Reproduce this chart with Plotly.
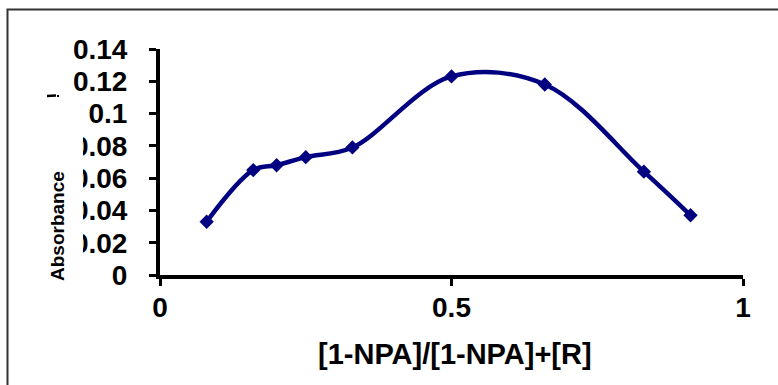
import plotly.graph_objects as go

# ---- data ----
mole_fraction = [0.08, 0.16, 0.20, 0.25, 0.33, 0.50, 0.66, 0.83, 0.91]
absorbance = [0.033, 0.065, 0.068, 0.073, 0.079, 0.123, 0.118, 0.064, 0.037]

x_tick_vals = [0, 0.5, 1]
x_tick_text = ["0", "0.5", "1"]
y_tick_vals = [0, 0.02, 0.04, 0.06, 0.08, 0.10, 0.12, 0.14]
y_tick_text = ["0", "0.02", "0.04", "0.06", "0.08", "0.1", "0.12", "0.14"]

x_title = "[1-NPA]/[1-NPA]+[R]"
y_title = "Absorbance"

# ---- layout geometry (pixels) ----
W, H = 778, 385
ML, MR, MT, MB = 160, 35, 49, 110
PW, PH = W - ML - MR, H - MT - MB


def px_to_paper_x(px):
    return (px - ML) / PW


def px_to_paper_y(py):
    return (H - MB - py) / PH


NAVY = "#000080"
FONT = "Liberation Sans, Arial, sans-serif"

fig = go.Figure()
fig.add_trace(go.Scatter(
    x=mole_fraction,
    y=absorbance,
    mode="lines+markers",
    line=dict(color=NAVY, width=4.5, shape="spline", smoothing=1.0),
    marker=dict(symbol="diamond", size=11, color=NAVY),
    showlegend=False,
    cliponaxis=False,
))

axis_common = dict(
    showline=True, linecolor="black", linewidth=4,
    ticks="outside", ticklen=7, tickwidth=3, tickcolor="black",
    showgrid=False, zeroline=False,
    tickfont=dict(family=FONT, size=28, color="black", weight="bold"),
)

fig.update_xaxes(range=[0, 1], tickvals=x_tick_vals, ticktext=x_tick_text,
                 ticklabelstandoff=-3, **axis_common)
fig.update_yaxes(range=[0, 0.14], tickvals=y_tick_vals, ticktext=y_tick_text,
                 ticklabelstandoff=16, **axis_common)

shapes = [
    # outer chart frame (only top/left edges visible in the crop)
    dict(type="rect", xref="paper", yref="paper",
         x0=px_to_paper_x(7.5), x1=px_to_paper_x(W + 20),
         y0=px_to_paper_y(H + 20), y1=px_to_paper_y(9.5),
         line=dict(color="#333333", width=2), fillcolor="rgba(0,0,0,0)",
         layer="below"),
    # white box of the axis-title area hiding part of the tick labels
    dict(type="rect", xref="paper", yref="paper",
         x0=px_to_paper_x(20), x1=px_to_paper_x(83),
         y0=px_to_paper_y(295), y1=px_to_paper_y(128),
         line=dict(width=0), fillcolor="white", layer="above"),
    # small stray fragment near the top of the title area
    dict(type="line", xref="paper", yref="paper",
         x0=px_to_paper_x(47), x1=px_to_paper_x(56),
         y0=px_to_paper_y(96), y1=px_to_paper_y(95.5),
         line=dict(color="black", width=2.5), layer="above"),
    dict(type="line", xref="paper", yref="paper",
         x0=px_to_paper_x(57), x1=px_to_paper_x(59),
         y0=px_to_paper_y(96), y1=px_to_paper_y(96),
         line=dict(color="black", width=2), layer="above"),
]

annotations = [
    dict(text=y_title, xref="paper", yref="paper",
         x=px_to_paper_x(57), y=px_to_paper_y(226),
         xanchor="center", yanchor="middle", textangle=-90, showarrow=False,
         font=dict(family=FONT, size=19, color="black", weight="bold")),
    dict(text=x_title, xref="paper", yref="paper",
         x=px_to_paper_x(455), y=px_to_paper_y(354),
         xanchor="center", yanchor="middle", showarrow=False,
         font=dict(family=FONT, size=29, color="black", weight="bold")),
]

fig.update_layout(
    width=W, height=H,
    margin=dict(l=ML, r=MR, t=MT, b=MB, pad=0),
    paper_bgcolor="white", plot_bgcolor="white",
    shapes=shapes, annotations=annotations,
)

fig.write_html(
    "out.html",
    config={"displayModeBar": False},
    post_script="document.body.style.margin='0px';document.body.style.overflow='hidden';",
)
